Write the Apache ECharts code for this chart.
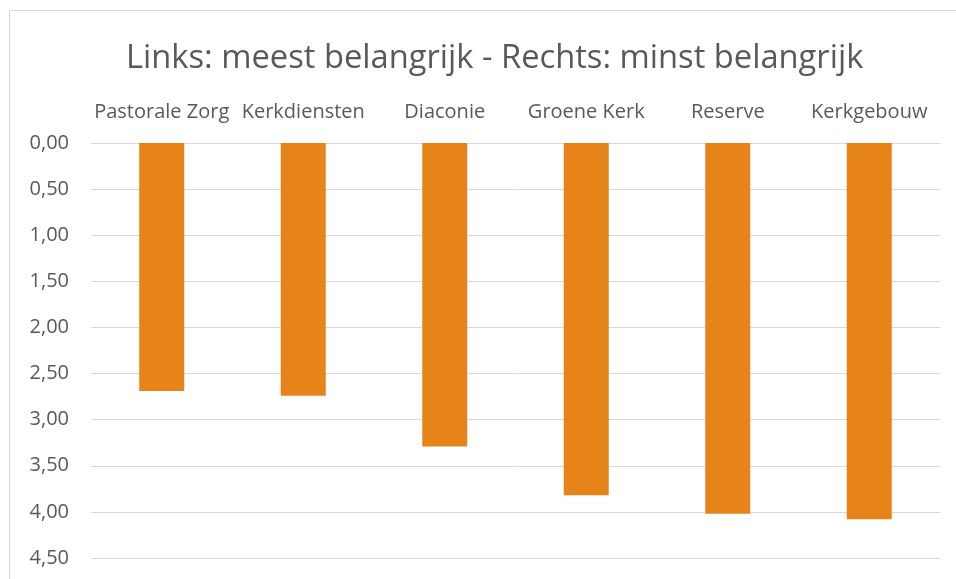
<!DOCTYPE html>
<html>
<head>
<meta charset="utf-8">
<script src="https://cdn.jsdelivr.net/npm/echarts@6/dist/echarts.min.js"></script>
<style>
  html, body { margin: 0; padding: 0; background: #fff; }
  #chart { width: 956px; height: 579px; }
</style>
</head>
<body>
<div id="chart"></div>
<script>
// categorieen en gemiddelde scores
const categories = ["Pastorale Zorg", "Kerkdiensten", "Diaconie", "Groene Kerk", "Reserve", "Kerkgebouw"];
const scores = [2.69, 2.74, 3.29, 3.82, 4.02, 4.08];
const titleText = "Links: meest belangrijk - Rechts: minst belangrijk";

const chart = echarts.init(document.getElementById("chart"));
const font = "'Open Sans', 'Noto Sans', sans-serif";

const option = {
  animation: false,
  textStyle: { fontFamily: font },
  title: {
    text: titleText,
    left: 121,
    top: 37,
    textStyle: { fontFamily: font, fontSize: 32.7, fontWeight: "normal", color: "#595959" }
  },
  graphic: [
    {
      type: "rect",
      shape: { x: 9.5, y: 10.5, width: 960, height: 580 },
      style: { fill: "none", stroke: "#d9d9d9", lineWidth: 1 },
      silent: true
    }
  ],
  grid: { left: 91, right: 16, top: 143, bottom: 21 },
  xAxis: {
    type: "category",
    position: "top",
    data: categories,
    axisLine: { show: true, lineStyle: { color: "#d9d9d9", width: 1 } },
    axisTick: { show: false },
    axisLabel: { color: "#595959", fontSize: 20, margin: 21, interval: 0 }
  },
  yAxis: {
    type: "value",
    inverse: true,
    min: 0,
    max: 4.5,
    interval: 0.5,
    axisLine: { show: false },
    axisTick: { show: false },
    splitLine: { lineStyle: { color: "#d9d9d9", width: 1 } },
    axisLabel: {
      color: "#595959",
      fontSize: 20,
      margin: 22,
      formatter: v => v.toFixed(2).replace(".", ",")
    }
  },
  series: [
    {
      type: "bar",
      data: scores,
      barWidth: 45,
      itemStyle: { color: "#E6841A" }
    }
  ]
};

chart.setOption(option);
</script>
</body>
</html>
